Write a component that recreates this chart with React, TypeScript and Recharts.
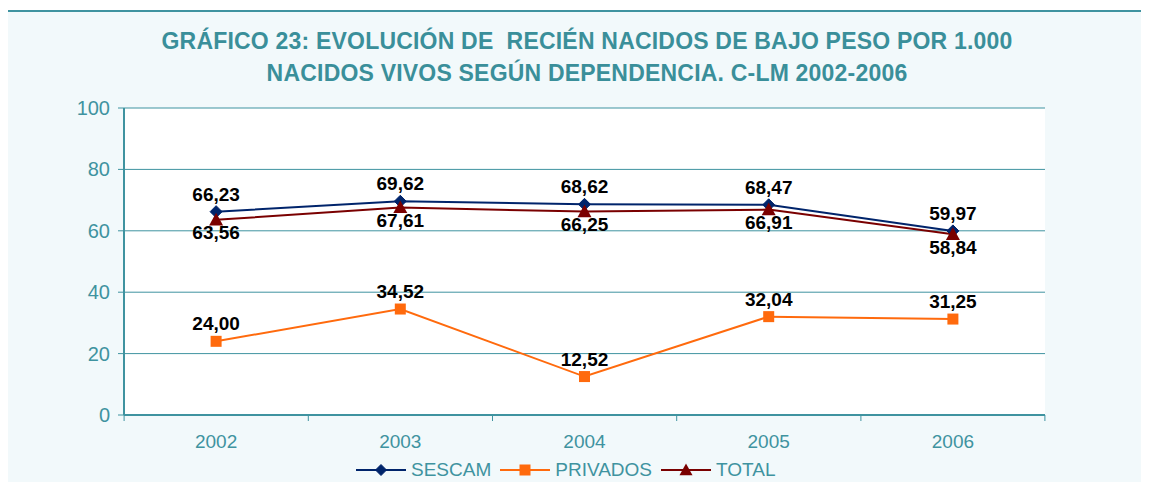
import { CartesianGrid, LabelList, Line, LineChart, XAxis, YAxis } from "recharts";

const years = ["2002", "2003", "2004", "2005", "2006"];
const sescam = [66.23, 69.62, 68.62, 68.47, 59.97];
const privados = [24.0, 34.52, 12.52, 32.04, 31.25];
const total = [63.56, 67.61, 66.25, 66.91, 58.84];
const yTicks = [0, 20, 40, 60, 80, 100];

const teal = "#3f93a0";
const font = "'Liberation Sans', Arial, sans-serif";

const data = years.map((year, i) => ({
  year,
  sescam: sescam[i],
  privados: privados[i],
  total: total[i],
}));

const fmt = (v: unknown) => Number(v).toFixed(2).replace(".", ",");

function Diamond({ cx, cy, size = 6 }: any) {
  if (cx == null || cy == null) return null;
  return (
    <polygon
      points={`${cx},${cy - size} ${cx + size},${cy} ${cx},${cy + size} ${cx - size},${cy}`}
      fill="#00246b"
      stroke="#00246b"
    />
  );
}

function Square({ cx, cy, size = 5.5 }: any) {
  if (cx == null || cy == null) return null;
  return <rect x={cx - size} y={cy - size} width={size * 2} height={size * 2} fill="#ff6a0d" />;
}

function Triangle({ cx, cy, size = 7 }: any) {
  if (cx == null || cy == null) return null;
  return (
    <polygon
      points={`${cx},${cy - size} ${cx + size},${cy + size * 0.8} ${cx - size},${cy + size * 0.8}`}
      fill="#7a0000"
    />
  );
}

function XTick({ x, y, payload, index }: any) {
  const half = 92;
  return (
    <g>
      <line x1={x - half} y1={y - 8} x2={x - half} y2={y - 2} stroke={teal} />
      {index === years.length - 1 && (
        <line x1={x + half} y1={y - 8} x2={x + half} y2={y - 2} stroke={teal} />
      )}
      <text x={x} y={y + 25} textAnchor="middle" fill={teal} fontSize={19} fontFamily={font}>
        {payload.value}
      </text>
    </g>
  );
}

function YTick({ y, payload }: any) {
  return (
    <text x={110} y={y + 7} textAnchor="end" fill={teal} fontSize={20} fontFamily={font}>
      {payload.value}
    </text>
  );
}

const legendItems = [
  { name: "SESCAM", color: "#00246b", Marker: Diamond },
  { name: "PRIVADOS", color: "#ff6a0d", Marker: Square },
  { name: "TOTAL", color: "#7a0000", Marker: Triangle },
];

function ChartLegend() {
  return (
    <div
      style={{
        position: "absolute",
        left: 355,
        top: 459,
        display: "flex",
        alignItems: "center",
        gap: 8,
      }}
    >
      {legendItems.map(({ name, color, Marker }) => (
        <div key={name} style={{ display: "flex", alignItems: "center" }}>
          <svg width={52} height={20}>
            <line x1={1} y1={10} x2={51} y2={10} stroke={color} strokeWidth={2} />
            <Marker cx={26} cy={10} size={name === "TOTAL" ? 6.5 : 5.5} />
          </svg>
          <span style={{ color: teal, fontSize: 19, fontFamily: font, marginLeft: 4, lineHeight: "22px" }}>
            {name}
          </span>
        </div>
      ))}
    </div>
  );
}

const labelStyle = { fontSize: 19, fontWeight: 700, fontFamily: font, fill: "#000" };

export default function App() {
  return (
    <div style={{ position: "relative", width: 1149, height: 490, margin: -8, overflow: "hidden", background: "#fff" }}>
      <div
        style={{
          position: "absolute",
          left: 4,
          top: 10,
          width: 1160,
          height: 500,
          border: `2px solid ${teal}`,
          background: "#f2f9fb",
        }}
      />
      <div
        style={{
          position: "absolute",
          left: 0,
          top: 25,
          width: 1174,
          textAlign: "center",
          color: "#3a8f9a",
          fontFamily: font,
          fontWeight: 700,
          fontSize: 23,
          letterSpacing: 0.2,
          lineHeight: "32px",
        }}
      >
        GRÁFICO 23: EVOLUCIÓN DE&nbsp; RECIÉN NACIDOS DE BAJO PESO POR 1.000
        <br />
        NACIDOS VIVOS SEGÚN DEPENDENCIA. C-LM 2002-2006
      </div>
      <div style={{ position: "absolute", left: 0, top: 0 }}>
        <LineChart width={1149} height={490} data={data} margin={{ top: 108, right: 104, left: 64, bottom: 45 }}>
          <CartesianGrid vertical={false} stroke={teal} fill="#ffffff" strokeWidth={1} />
          <XAxis
            dataKey="year"
            scale="band"
            height={30}
            axisLine={{ stroke: teal, strokeWidth: 2 }}
            tickLine={false}
            tick={<XTick />}
            interval={0}
          />
          <YAxis
            domain={[0, 100]}
            ticks={yTicks}
            width={60}
            axisLine={{ stroke: teal, strokeWidth: 2 }}
            tickLine={{ stroke: teal }}
            tickSize={6}
            tick={<YTick />}
          />
          <YAxis
            yAxisId="right"
            orientation="right"
            domain={[0, 100]}
            width={0}
            tick={false}
            tickLine={false}
            axisLine={{ stroke: teal, strokeWidth: 2 }}
          />
          <Line
            name="SESCAM"
            dataKey="sescam"
            stroke="#00246b"
            strokeWidth={2}
            dot={<Diamond />}
            isAnimationActive={false}
          >
            <LabelList dataKey="sescam" position="top" offset={11} formatter={fmt} style={labelStyle} />
          </Line>
          <Line
            name="PRIVADOS"
            dataKey="privados"
            stroke="#ff6a0d"
            strokeWidth={2}
            dot={<Square />}
            isAnimationActive={false}
          >
            <LabelList dataKey="privados" position="top" offset={11} formatter={fmt} style={labelStyle} />
          </Line>
          <Line
            name="TOTAL"
            dataKey="total"
            stroke="#7a0000"
            strokeWidth={2}
            dot={<Triangle />}
            isAnimationActive={false}
          >
            <LabelList dataKey="total" position="bottom" offset={6} formatter={fmt} style={labelStyle} />
          </Line>
        </LineChart>
      </div>
      <ChartLegend />
    </div>
  );
}
